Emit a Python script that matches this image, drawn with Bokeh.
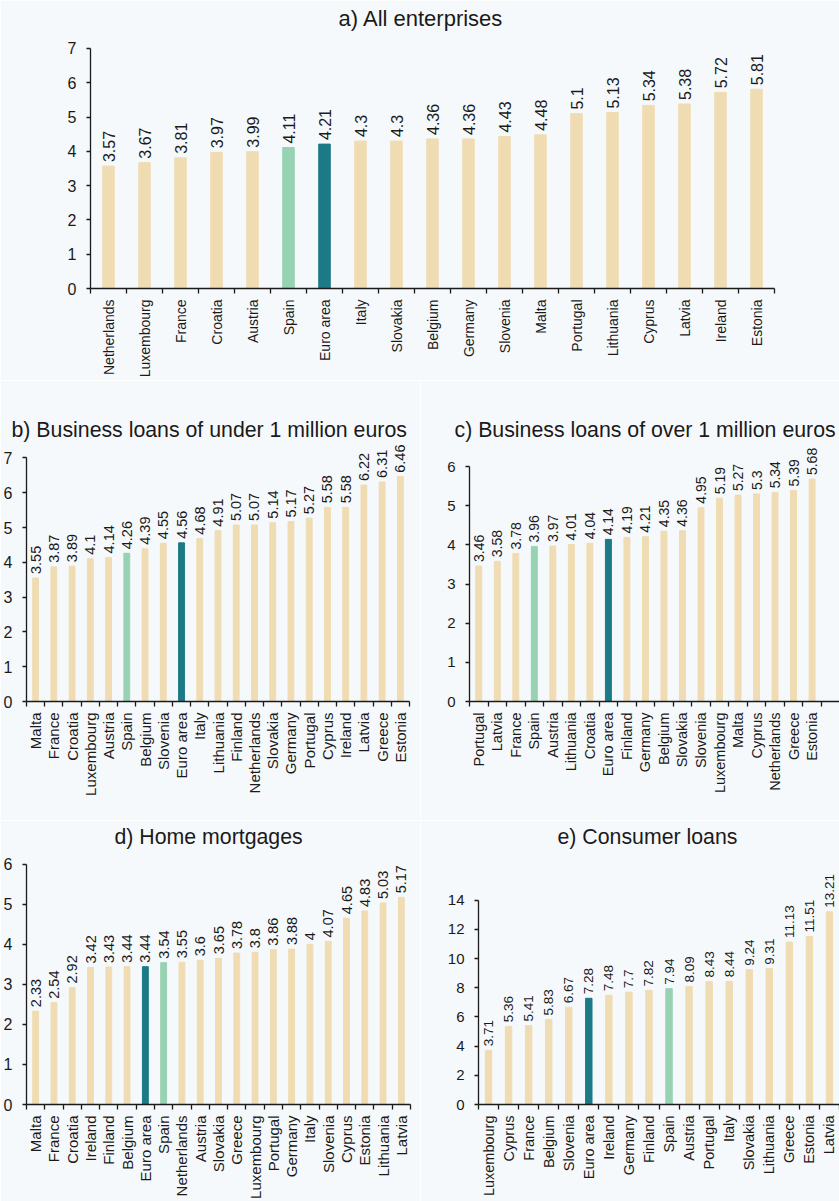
import math
from bokeh.plotting import figure
from bokeh.models import FixedTicker, ColumnDataSource
from bokeh.layouts import column, row
from bokeh.core.properties import value
from bokeh.embed import file_html
from bokeh.resources import INLINE

# ---------------- data ----------------
a_title = "a) All enterprises"
a_cats = ["Netherlands", "Luxembourg", "France", "Croatia", "Austria", "Spain", "Euro area",
          "Italy", "Slovakia", "Belgium", "Germany", "Slovenia", "Malta", "Portugal",
          "Lithuania", "Cyprus", "Latvia", "Ireland", "Estonia"]
a_vals = [3.57, 3.67, 3.81, 3.97, 3.99, 4.11, 4.21, 4.3, 4.3, 4.36, 4.36, 4.43, 4.48, 5.1,
          5.13, 5.34, 5.38, 5.72, 5.81]

b_title = "b) Business loans of under 1 million euros"
b_cats = ["Malta", "France", "Croatia", "Luxembourg", "Austria", "Spain", "Belgium", "Slovenia",
          "Euro area", "Italy", "Lithuania", "Finland", "Netherlands", "Slovakia", "Germany",
          "Portugal", "Cyprus", "Ireland", "Latvia", "Greece", "Estonia"]
b_vals = [3.55, 3.87, 3.89, 4.1, 4.14, 4.26, 4.39, 4.55, 4.56, 4.68, 4.91, 5.07, 5.07, 5.14,
          5.17, 5.27, 5.58, 5.58, 6.22, 6.31, 6.46]

c_title = "c) Business loans of over 1 million euros"
c_cats = ["Portugal", "Latvia", "France", "Spain", "Austria", "Lithuania", "Croatia", "Euro area",
          "Finland", "Germany", "Belgium", "Slovakia", "Slovenia", "Luxembourg", "Malta",
          "Cyprus", "Netherlands", "Greece", "Estonia"]
c_vals = [3.46, 3.58, 3.78, 3.96, 3.97, 4.01, 4.04, 4.14, 4.19, 4.21, 4.35, 4.36, 4.95, 5.19,
          5.27, 5.3, 5.34, 5.39, 5.68]

d_title = "d) Home mortgages"
d_cats = ["Malta", "France", "Croatia", "Ireland", "Finland", "Belgium", "Euro area", "Spain",
          "Netherlands", "Austria", "Slovakia", "Greece", "Luxembourg", "Portugal", "Germany",
          "Italy", "Slovenia", "Cyprus", "Estonia", "Lithuania", "Latvia"]
d_vals = [2.33, 2.54, 2.92, 3.42, 3.43, 3.44, 3.44, 3.54, 3.55, 3.6, 3.65, 3.78, 3.8, 3.86,
          3.88, 4, 4.07, 4.65, 4.83, 5.03, 5.17]

e_title = "e) Consumer loans"
e_cats = ["Luxembourg", "Cyprus", "France", "Belgium", "Slovenia", "Euro area", "Ireland",
          "Germany", "Finland", "Spain", "Austria", "Portugal", "Italy", "Slovakia", "Lithuania",
          "Greece", "Estonia", "Latvia"]
e_vals = [3.71, 5.36, 5.41, 5.83, 6.67, 7.28, 7.48, 7.7, 7.82, 7.94, 8.09, 8.43, 8.44, 9.24,
          9.31, 11.13, 11.51, 13.21]

a_yticks = [0, 1, 2, 3, 4, 5, 6, 7]
b_yticks = [0, 1, 2, 3, 4, 5, 6, 7]
c_yticks = [0, 1, 2, 3, 4, 5, 6]
d_yticks = [0, 1, 2, 3, 4, 5, 6]
e_yticks = [0, 2, 4, 6, 8, 10, 12, 14]

# ---------------- style ----------------
BG = "#f6f9fb"
BEIGE = "#efdcb3"
GREEN = "#97d2b3"
TEAL = "#1b7a85"
INK = "#1a1a1a"
FONT = "Liberation Sans"


def bar_color(name):
    if name == "Euro area":
        return TEAL
    if name == "Spain":
        return GREEN
    return BEIGE


def panel(title, cats, vals, yticks, width, height, ml, mr, mt, mb, xend_extra, ytop,
          tfs, title_off, ytfs, xtfs, vfs):
    n = len(cats)
    p = figure(width=width, height=height, output_backend="svg", toolbar_location=None,
               x_range=(-0.5, n - 0.5 + xend_extra), y_range=(0, ytop),
               min_border_left=ml, min_border_right=mr, min_border_top=mt, min_border_bottom=mb,
               background_fill_color=BG, border_fill_color=BG, outline_line_color=None)
    p.title.text = title
    p.title.text_font = FONT
    p.title.text_font_size = tfs
    p.title.text_font_style = "normal"
    p.title.text_color = INK
    p.title.align = "left"
    p.title.offset = title_off
    p.title.standoff = 4
    p.xgrid.visible = False
    p.ygrid.visible = False

    xs = list(range(n))
    src = ColumnDataSource(dict(x=xs, top=vals, color=[bar_color(c) for c in cats],
                                label=[f"{v:g}" for v in vals]))
    p.vbar(x="x", top="top", width=0.32, color="color", source=src)
    p.text(x="x", y="top", text="label", source=src, angle=math.pi / 2,
           text_align="left", text_baseline="middle", y_offset=-4,
           text_font=value(FONT), text_font_size=value(vfs), text_color=INK)

    # x axis
    xa = p.xaxis[0]
    xa.ticker = FixedTicker(ticks=xs, minor_ticks=[i - 0.5 for i in range(n + 1)])
    xa.major_label_overrides = {i: c for i, c in enumerate(cats)}
    xa.major_label_orientation = math.pi / 2
    xa.major_tick_out = 0
    xa.major_tick_in = 0
    xa.minor_tick_out = 5
    xa.minor_tick_in = 0
    xa.minor_tick_line_color = INK
    xa.minor_tick_line_width = 1.3
    xa.axis_line_color = INK
    xa.axis_line_width = 1.3
    xa.major_label_text_font = FONT
    xa.major_label_text_font_size = xtfs
    xa.major_label_text_color = INK
    xa.major_label_standoff = 6

    # y axis
    ya = p.yaxis[0]
    ya.ticker = FixedTicker(ticks=yticks, minor_ticks=[])
    ya.bounds = (yticks[0], yticks[-1])
    ya.major_tick_out = 4
    ya.major_tick_in = 0
    ya.major_tick_line_color = INK
    ya.major_tick_line_width = 1.3
    ya.minor_tick_out = 0
    ya.minor_tick_in = 0
    ya.axis_line_color = INK
    ya.axis_line_width = 1.3
    ya.major_label_text_font = FONT
    ya.major_label_text_font_size = ytfs
    ya.major_label_text_color = INK
    ya.major_label_standoff = 10
    return p


pa = panel(a_title, a_cats, a_vals, a_yticks, 839, 380, 90, 65, 32, 91, 0, 7.465,
           "22px", 248, "16px", "14px", "16px")
pb = panel(b_title, b_cats, b_vals, b_yticks, 420, 440, 24, 11, 63, 116, 0, 7.415,
           "21.3px", -15, "16px", "15px", "14.5px")
pc = panel(c_title, c_cats, c_vals, c_yticks, 419, 440, 49, 0, 63, 119, 0.98, 6.588,
           "21.3px", -15, "15px", "14.5px", "14px")
pd = panel(d_title, d_cats, d_vals, d_yticks, 420, 381, 24, 10, 29, 94, 0, 6.34,
           "21.3px", 88, "16px", "15px", "14.5px")
pe = panel(e_title, e_cats, e_vals, e_yticks, 419, 381, 58, 0, 29, 96, 0, 17.41,
           "21.3px", 79, "15px", "14.5px", "13.5px")

layout = column(pa, row(pb, pc), row(pd, pe))
open("out.html", "w").write(file_html(layout, INLINE))
